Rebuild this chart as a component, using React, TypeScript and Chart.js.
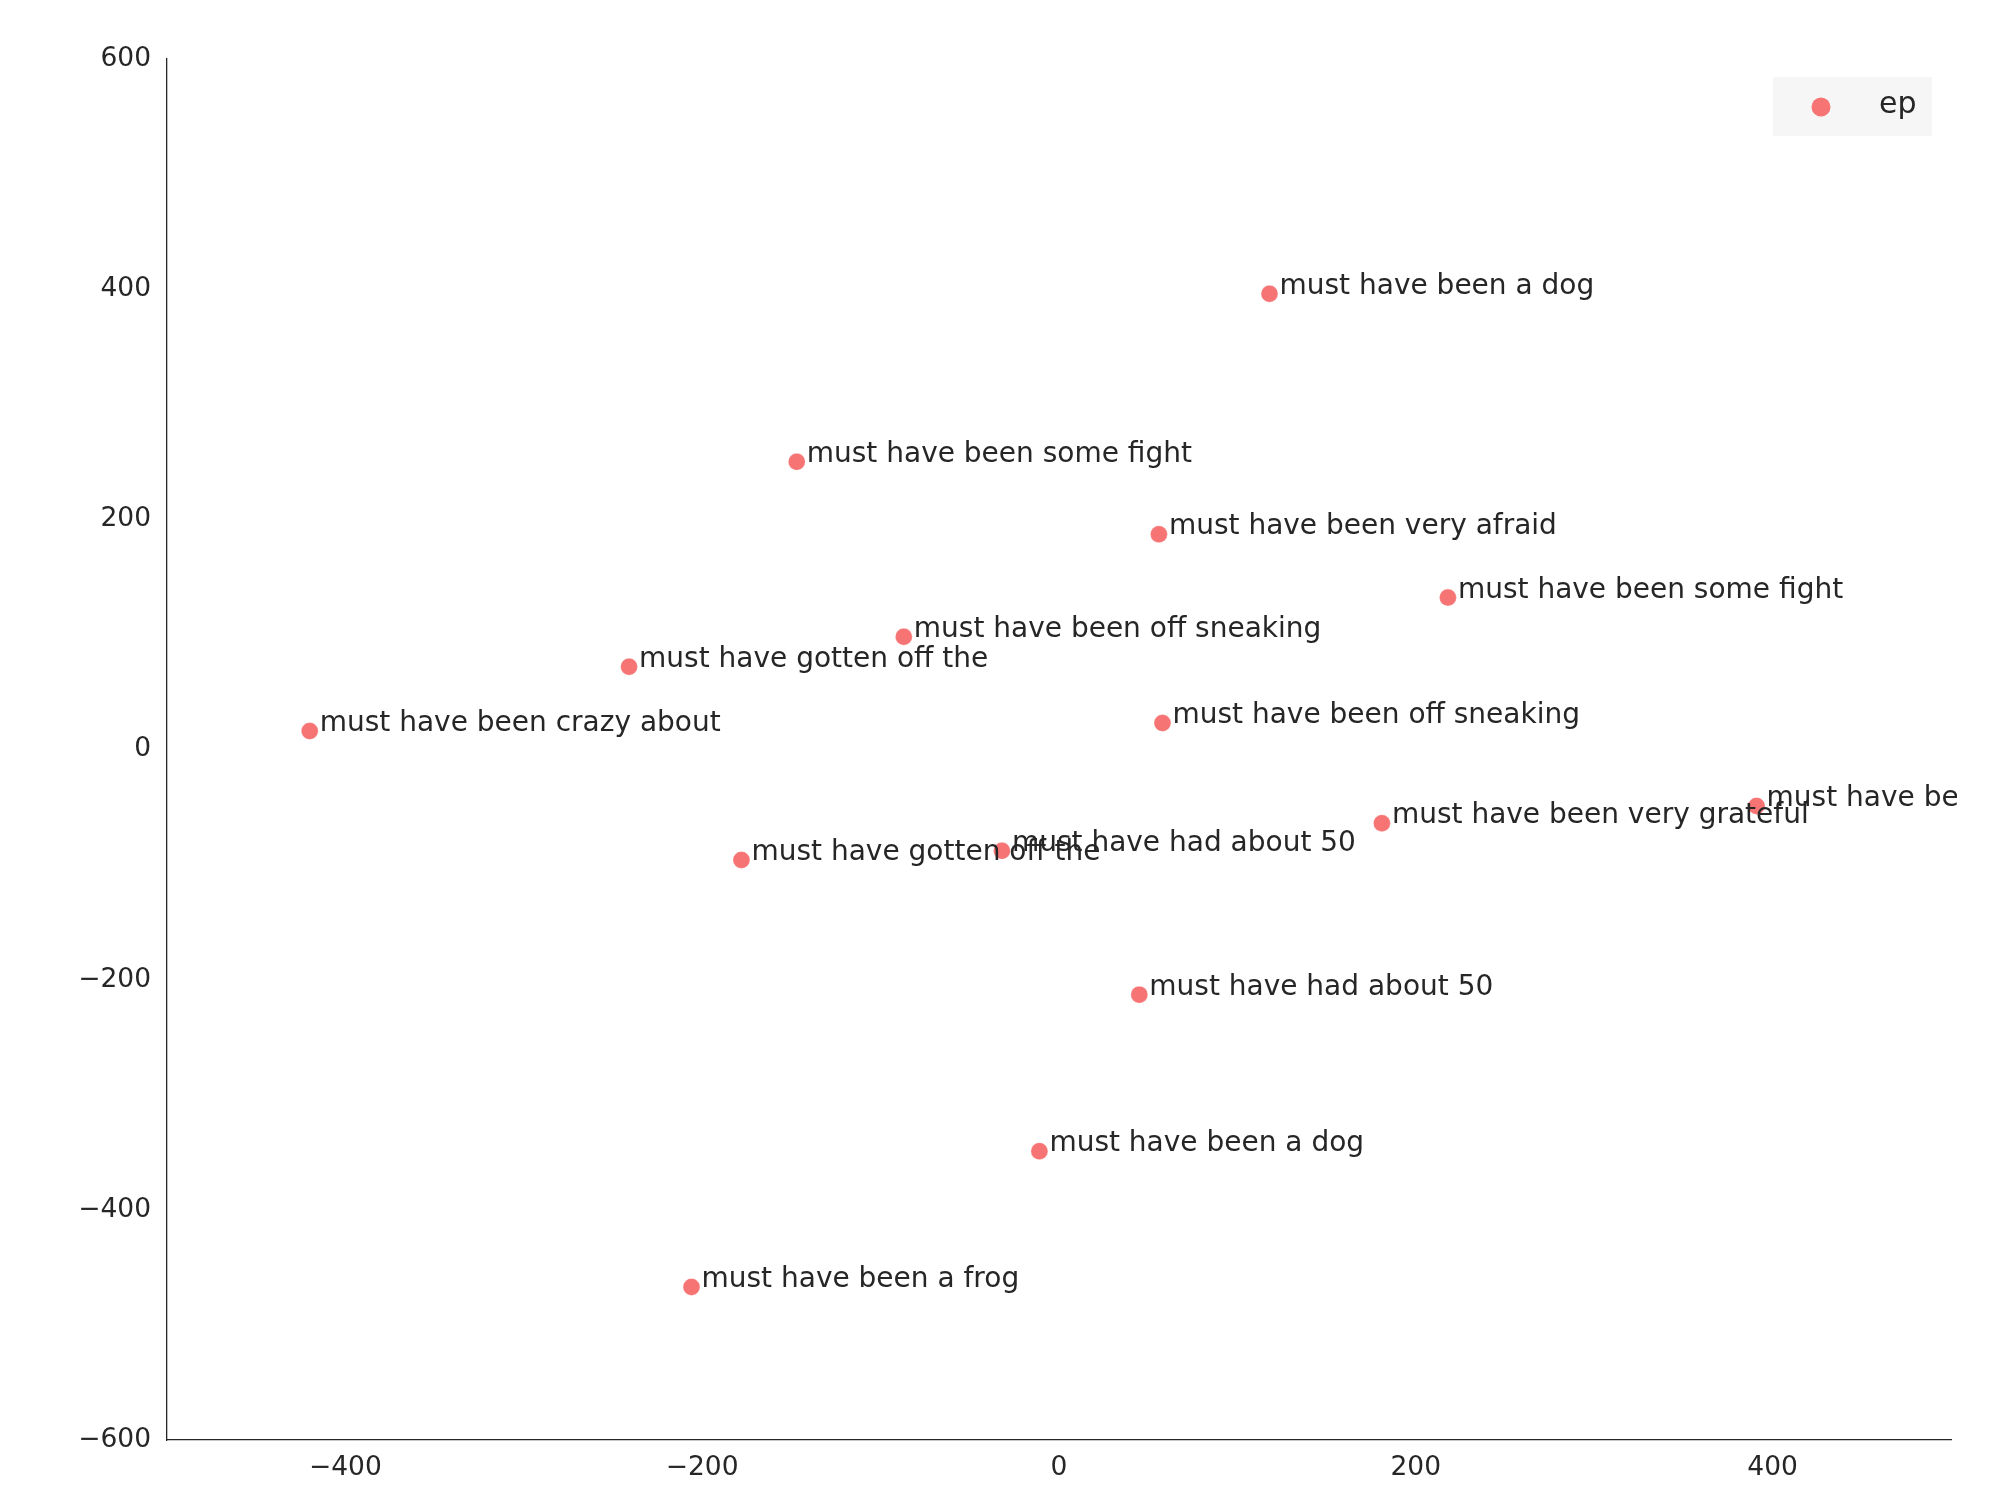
import React, { useEffect, useRef } from "react";
import { Chart, registerables } from "chart.js";

Chart.register(...registerables);

const seriesName = "ep";
const xValues = [118, -147, 56, 218, -87, -241, -420, 58, 391, 181, -32, -178, 45, -11, -206];
const yValues = [396, 250, 187, 132, 98, 72, 16, 23, -49, -64, -88, -96, -213, -349, -467];
const pointLabels = [
  "must have been a dog",
  "must have been some fight",
  "must have been very afraid",
  "must have been some fight",
  "must have been off sneaking",
  "must have gotten off the",
  "must have been crazy about",
  "must have been off sneaking",
  "must have been a frog",
  "must have been very grateful",
  "must have had about 50",
  "must have gotten off the",
  "must have had about 50",
  "must have been a dog",
  "must have been a frog",
];
const xTicks = [-400, -200, 0, 200, 400];
const yTicks = [-600, -400, -200, 0, 200, 400, 600];

const FONT = "'DejaVu Sans', 'Liberation Sans', sans-serif";
const TEXT = "#262626";
const POINT = "#f77474";

const fmt = (v: number) => (v < 0 ? "\u2212" + Math.abs(v) : String(v));

const labelPlugin = {
  id: "pointLabels",
  afterDatasetsDraw(chart: any) {
    const ctx = chart.ctx;
    const meta = chart.getDatasetMeta(0);
    ctx.save();
    ctx.beginPath();
    ctx.rect(0, 0, chart.chartArea.right + 6, chart.height);
    ctx.clip();
    ctx.font = `28px ${FONT}`;
    ctx.fillStyle = TEXT;
    ctx.textAlign = "left";
    ctx.textBaseline = "alphabetic";
    meta.data.forEach((el: any, i: number) => {
      ctx.fillText(pointLabels[i], el.x + 10, el.y);
    });
    ctx.restore();
  },
};

const legendPlugin = {
  id: "customLegend",
  afterDraw(chart: any) {
    const ctx = chart.ctx;
    const a = chart.chartArea;
    const bx = a.right - 178;
    const by = a.top + 18;
    ctx.save();
    ctx.fillStyle = "#f6f6f6";
    ctx.fillRect(bx, by, 159, 59);
    ctx.fillStyle = POINT;
    ctx.beginPath();
    ctx.arc(bx + 48, by + 30, 9.5, 0, Math.PI * 2);
    ctx.fill();
    ctx.fillStyle = TEXT;
    ctx.font = `30px ${FONT}`;
    ctx.textAlign = "left";
    ctx.textBaseline = "middle";
    ctx.fillText(seriesName, bx + 106, by + 28);
    ctx.restore();
  },
};

export default function App() {
  const ref = useRef<HTMLCanvasElement | null>(null);

  useEffect(() => {
    document.body.style.margin = "0";
    const canvas = ref.current;
    if (!canvas) return;
    const chart = new Chart(canvas, {
      type: "scatter",
      data: {
        datasets: [
          {
            label: seriesName,
            data: xValues.map((x, i) => ({ x, y: yValues[i] })),
            backgroundColor: POINT,
            borderColor: "rgba(255,255,255,0.6)",
            borderWidth: 0.5,
            pointRadius: 8.5,
            pointHoverRadius: 8.5,
          },
        ],
      },
      options: {
        animation: false,
        responsive: false,
        devicePixelRatio: 1,
        events: [],
        layout: { padding: { top: 59, right: 39, left: 0, bottom: 0 } },
        plugins: {
          legend: { display: false },
          tooltip: { enabled: false },
        },
        scales: {
          x: {
            type: "linear",
            min: -500,
            max: 500,
            grid: { display: false, drawTicks: false, tickLength: 0 },
            border: { display: true, color: TEXT, width: 1.3 },
            afterBuildTicks: (s: any) => {
              s.ticks = xTicks.map((v) => ({ value: v }));
            },
            afterFit: (s: any) => {
              s.height = 45;
            },
            ticks: {
              color: TEXT,
              font: { family: FONT, size: 26.5 },
              padding: 12,
              maxRotation: 0,
              autoSkip: false,
              callback: (v: any) => fmt(Number(v)),
            },
          },
          y: {
            type: "linear",
            min: -600,
            max: 600,
            grid: { display: false, drawTicks: false, tickLength: 0 },
            border: { display: true, color: TEXT, width: 1.3 },
            afterBuildTicks: (s: any) => {
              s.ticks = yTicks.map((v) => ({ value: v }));
            },
            afterFit: (s: any) => {
              s.width = 167;
            },
            ticks: {
              color: TEXT,
              font: { family: FONT, size: 26.5 },
              padding: 16,
              autoSkip: false,
              callback: (v: any) => fmt(Number(v)),
            },
          },
        },
      },
      plugins: [labelPlugin, legendPlugin],
    });
    return () => chart.destroy();
  }, []);

  return (
    <canvas
      ref={ref}
      width={1990}
      height={1485}
      style={{ position: "fixed", left: 0, top: 0, width: 1990, height: 1485, display: "block" }}
    />
  );
}
